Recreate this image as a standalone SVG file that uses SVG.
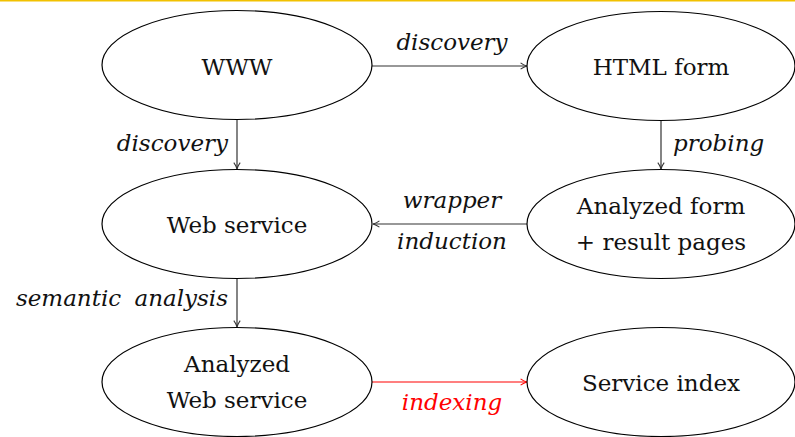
<svg xmlns="http://www.w3.org/2000/svg" width="795" height="437" viewBox="0 0 795 437">
<defs>
<style>
.node ellipse{fill:#fff;stroke:#000;stroke-width:1.2}
.node text{font-family:"DejaVu Serif","Liberation Serif",serif;font-size:23px;fill:#111;text-anchor:middle}
.lbl{font-family:"DejaVu Serif","Liberation Serif",serif;font-style:italic;font-size:23px;fill:#111}
.edge{stroke:#333;stroke-width:1.2;fill:none;marker-end:url(#arr)}
.red{stroke:#f00;marker-end:url(#arrR)}
</style>
<marker id="arr" viewBox="0 0 10 10" refX="9" refY="5" markerWidth="8" markerHeight="8" markerUnits="userSpaceOnUse" orient="auto"><path d="M1,1 Q5,4 9,5 Q5,6 1,9" fill="none" stroke="#333" stroke-width="1.3"/></marker>
<marker id="arrR" viewBox="0 0 10 10" refX="9" refY="5" markerWidth="8" markerHeight="8" markerUnits="userSpaceOnUse" orient="auto"><path d="M1,1 Q5,4 9,5 Q5,6 1,9" fill="none" stroke="#f00" stroke-width="1.3"/></marker>
</defs>
<rect width="795" height="437" fill="#fff"/>
<rect x="0" y="0" width="795" height="1.5" fill="#f2c100"/>
<g id="connectors">
<line class="edge" x1="372" y1="66" x2="527" y2="66"/>
<line class="edge" x1="237" y1="120" x2="237" y2="169"/>
<line class="edge" x1="661" y1="120" x2="661" y2="169"/>
<line class="edge" x1="527" y1="224" x2="373" y2="224"/>
<line class="edge" x1="237" y1="279" x2="237" y2="327"/>
<line class="edge red" x1="372" y1="382" x2="527" y2="382"/>
<text class="lbl" x="452" y="50" text-anchor="middle">discovery</text>
<text class="lbl" x="228" y="151" text-anchor="end">discovery</text>
<text class="lbl" x="673" y="151">probing</text>
<text class="lbl" x="452" y="208" text-anchor="middle">wrapper</text>
<text class="lbl" x="452" y="249" text-anchor="middle">induction</text>
<text class="lbl" x="228" y="306" text-anchor="end" word-spacing="6">semantic analysis</text>
<text class="lbl" x="452" y="410" text-anchor="middle" style="fill:#f00">indexing</text>
</g>
<g id="www" class="node"><ellipse cx="237" cy="65" rx="135" ry="54.5"/><text x="237" y="75">WWW</text></g>
<g id="html-form" class="node"><ellipse cx="661" cy="66" rx="134" ry="54.5"/><text x="661" y="75">HTML form</text></g>
<g id="web-service" class="node"><ellipse cx="237" cy="224" rx="135" ry="54.5"/><text x="237" y="233">Web service</text></g>
<g id="analyzed-form" class="node"><ellipse cx="661" cy="224" rx="134" ry="54.5"/><text x="661" y="214">Analyzed form</text><text x="661" y="250">+ result pages</text></g>
<g id="analyzed-ws" class="node"><ellipse cx="237" cy="382" rx="135" ry="54.5"/><text x="237" y="372">Analyzed</text><text x="237" y="408">Web service</text></g>
<g id="service-index" class="node"><ellipse cx="661" cy="382" rx="134" ry="54.5"/><text x="661" y="391">Service index</text></g>
</svg>
